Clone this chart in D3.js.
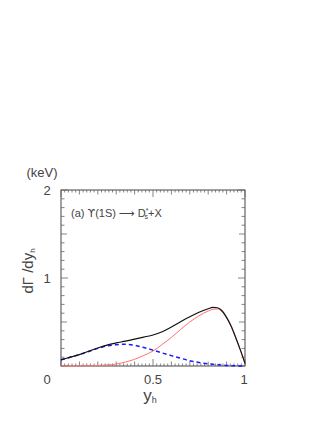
<!DOCTYPE html>
<html>
<head>
<meta charset="utf-8">
<script src="https://cdn.jsdelivr.net/npm/d3@7"></script>
<style>
  html, body { margin: 0; padding: 0; background: #fff; }
  text { font-family: "Liberation Sans", "DejaVu Sans", sans-serif; fill: #444; }
</style>
</head>
<body>
<div id="chart"></div>
<script>
// y_h sample points
const yh = [0, 0.05, 0.1, 0.15, 0.2, 0.25, 0.3, 0.35, 0.4, 0.45, 0.5, 0.55, 0.6, 0.65, 0.7, 0.75,
            0.8, 0.825, 0.85, 0.875, 0.9, 0.925, 0.95, 0.975, 1];
// total (black)
const total = [0.07, 0.10, 0.13, 0.168, 0.205, 0.238, 0.262, 0.282, 0.305, 0.328, 0.352, 0.39, 0.443, 0.503, 0.56, 0.61,
               0.65, 0.667, 0.662, 0.628, 0.552, 0.451, 0.32, 0.18, 0.03];
// red (thin)
const colorOctet = [0, 0, 0.001, 0.003, 0.006, 0.012, 0.022, 0.045, 0.076, 0.12, 0.17, 0.245, 0.325, 0.415, 0.50, 0.57,
                    0.625, 0.643, 0.648, 0.618, 0.545, 0.447, 0.318, 0.179, 0.03];
// blue dashed
const colorSinglet = [0.07, 0.10, 0.13, 0.165, 0.2, 0.228, 0.242, 0.247, 0.235, 0.21, 0.18, 0.148, 0.118, 0.088, 0.06, 0.04,
                      0.025, 0.019, 0.014, 0.01, 0.007, 0.004, 0.002, 0.001, 0];

const xLabels = [0.5, 1];
const yLabels = [0, 1, 2];

const W = 330, H = 427;
const box = { left: 61, right: 245, top: 190, bottom: 366 };

const svg = d3.select('#chart').append('svg')
    .attr('width', W)
    .attr('height', H);

const x = d3.scaleLinear().domain([0, 1]).range([box.left, box.right]);
const y = d3.scaleLinear().domain([0, 2]).range([box.bottom, box.top]);

// frame
svg.append('rect')
    .attr('x', box.left).attr('y', box.top)
    .attr('width', box.right - box.left).attr('height', box.bottom - box.top)
    .attr('fill', 'none').attr('stroke', '#444').attr('stroke-width', 1);

// ticks, all pointing inward
const tickG = svg.append('g').attr('stroke', '#666').attr('stroke-width', 0.8);
d3.range(0, 51).forEach(i => {
    const v = i / 50;
    const len = (i % 25 === 0) ? 7 : (i % 5 === 0 ? 4.5 : 2.5);
    const px = x(v);
    tickG.append('line').attr('x1', px).attr('x2', px).attr('y1', box.bottom).attr('y2', box.bottom - len);
    tickG.append('line').attr('x1', px).attr('x2', px).attr('y1', box.top).attr('y2', box.top + len);
});
d3.range(0, 21).forEach(i => {
    const v = i / 10;
    const len = (i % 10 === 0) ? 7 : (i % 5 === 0 ? 6 : 3.5);
    const py = y(v);
    tickG.append('line').attr('y1', py).attr('y2', py).attr('x1', box.left).attr('x2', box.left + len);
    tickG.append('line').attr('y1', py).attr('y2', py).attr('x1', box.right).attr('x2', box.right - len);
});

// tick labels
svg.append('g').selectAll('text').data(xLabels).join('text')
    .attr('x', d => x(d) - (d === 1 ? 1 : 0))
    .attr('y', 384)
    .attr('text-anchor', 'middle')
    .attr('font-size', 13)
    .text(d => d);

svg.append('g').selectAll('text').data(yLabels).join('text')
    .attr('x', 47)
    .attr('y', d => d === 0 ? 384 : y(d) + 5)
    .attr('text-anchor', 'middle')
    .attr('font-size', 13)
    .text(d => d);

// axis titles
svg.append('text').attr('x', 42).attr('y', 177).attr('text-anchor', 'middle')
    .attr('font-size', 13).text('(keV)');

const yt = svg.append('text')
    .attr('transform', 'translate(33,271) rotate(-90)')
    .attr('text-anchor', 'middle')
    .attr('font-size', 15);
yt.append('tspan').text('dΓ /dy');
yt.append('tspan').attr('font-size', 8).attr('dy', 2).text('h');

const xt = svg.append('text').attr('x', 150).attr('y', 401).attr('text-anchor', 'middle').attr('font-size', 17);
xt.append('tspan').text('y');
xt.append('tspan').attr('font-size', 9).attr('dy', 2).text('h');

// in-plot label
const lab = svg.append('text').attr('x', 71).attr('y', 217).attr('font-size', 11);
lab.append('tspan').text('(a) ');
lab.append('tspan').attr('font-family', 'DejaVu Sans').text('ϒ');
lab.append('tspan').text('(1S) ⟶ D');
lab.append('tspan').attr('font-size', 7).attr('dy', -4).text('*');
lab.append('tspan').attr('font-size', 7).attr('dx', -4).attr('dy', 6).text('s');
lab.append('tspan').attr('dy', -2).text('+X');

// curves
const line = arr => d3.line()
    .x((d, i) => x(yh[i]))
    .y(d => y(d))
    .curve(d3.curveMonotoneX)(arr);

svg.append('path').attr('d', line(colorOctet))
    .attr('fill', 'none').attr('stroke', '#ff7070').attr('stroke-width', 1);
svg.append('path').attr('d', line(colorSinglet))
    .attr('fill', 'none').attr('stroke', '#1a1aff').attr('stroke-width', 1.5)
    .attr('stroke-dasharray', '4,3');
svg.append('path').attr('d', line(total))
    .attr('fill', 'none').attr('stroke', '#111').attr('stroke-width', 1.2);
</script>
</body>
</html>
